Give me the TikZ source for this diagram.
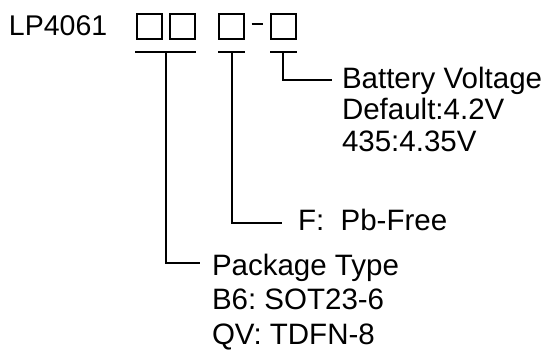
\documentclass[tikz,border=0pt]{standalone}
\usepackage{fontspec}
\setmainfont{Liberation Sans}
\begin{document}
\begin{tikzpicture}[x=1pt,y=-1pt,line width=2pt,
  box/.style={draw,minimum size=25pt,inner sep=0pt,line width=2pt},
  lbl/.style={anchor=base west,inner sep=0pt,font=\fontsize{29.5}{32}\selectfont\frenchspacing},
  conn/.style={line width=2pt}]
\useasboundingbox (0,0) rectangle (546,350);
% part number and code boxes
\node[lbl,font=\fontsize{28.5}{32}\selectfont] (pn) at (8,36) {LP4061};
\node[box] (b1) at (149,27) {};
\node[box] (b2) at (182,27) {};
\node[box] (b3) at (231.7,27) {};
\node[box] (b4) at (283.7,27) {};
\coordinate (dashL) at (251.7,24);
\coordinate (dashR) at (263.3,24);
\draw[conn] (dashL) -- (dashR);
% underlines
\coordinate (u1a) at (135,51.7);  \coordinate (u1b) at (195.7,51.7);
\coordinate (u2a) at (218.3,51.7); \coordinate (u2b) at (245.3,51.7);
\coordinate (u3a) at (270.3,51.7); \coordinate (u3b) at (297.3,51.7);
\draw[conn] (u1a) -- (u1b);
\draw[conn] (u2a) -- (u2b);
\draw[conn] (u3a) -- (u3b);
% labels
\node[lbl] (bv)  at (341,88.3)  {Battery Voltage};
\node[lbl] (bvd) at (341,119.3) {Default:4.2V};
\node[lbl] (bvh) at (341,151.7) {435:4.35V};
\node[lbl] (pf)  at (297,230)   {F:~ Pb-Free};
\node[lbl] (pt)  at (211,275)   {Package Type};
\node[lbl] (pt1) at (211,309.3) {B6: SOT23-6};
\node[lbl] (pt2) at (211,344)   {QV: TDFN-8};
% connector ends
\coordinate (t1) at (165.5,51.7);
\coordinate (t2) at (232.3,51.7);
\coordinate (t3) at (283.3,51.7);
\coordinate (e1) at (200,263.3);
\coordinate (e2) at (281.7,222.5);
\coordinate (e3) at (331.7,80);
\draw[conn] (t1) |- (e1);
\draw[conn] (t2) |- (e2);
\draw[conn] (t3) |- (e3);
\end{tikzpicture}
\end{document}
